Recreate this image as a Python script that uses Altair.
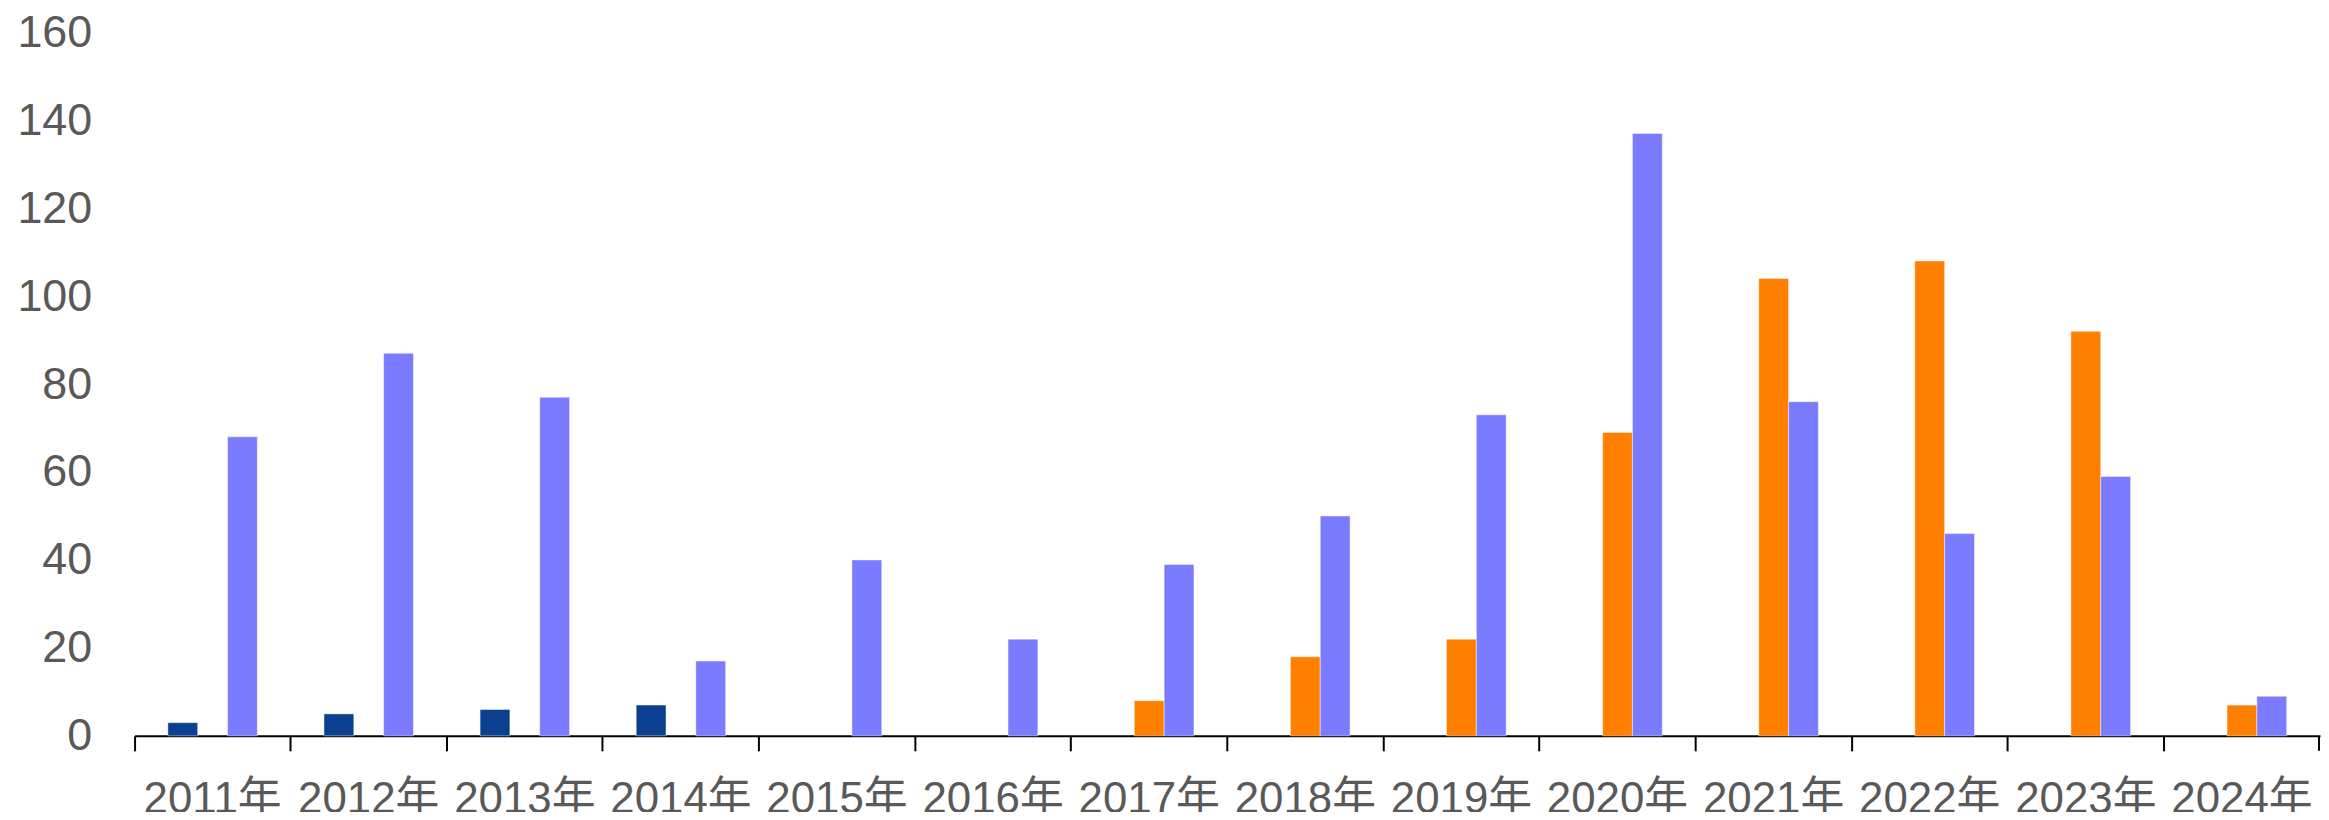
import altair as alt
import pandas as pd

years = ["2011年", "2012年", "2013年", "2014年", "2015年", "2016年", "2017年",
         "2018年", "2019年", "2020年", "2021年", "2022年", "2023年", "2024年"]
series_names = ["系列1", "系列2", "系列3"]
s1 = [3, 5, 6, 7, None, None, None, None, None, None, None, None, None, None]
s2 = [None, None, None, None, None, None, 8, 18, 22, 69, 104, 108, 92, 7]
s3 = [68, 87, 77, 17, 40, 22, 39, 50, 73, 137, 76, 46, 59, 9]
colors = ["#0B3F8F", "#FF7F00", "#7B7BFF"]
y_ticks = [0, 20, 40, 60, 80, 100, 120, 140, 160]

rows = []
for name, vals in zip(series_names, [s1, s2, s3]):
    for y, v in zip(years, vals):
        if v is not None:
            rows.append({"year": y, "series": name, "value": v})
df = pd.DataFrame(rows)

W = 2193
H = 706
FONT = "Liberation Sans, Arial, Noto Sans CJK SC"
# empty slots either side of the group stand for the gap between clusters
offset_domain = ["_gapL"] + series_names + ["_gapR"]

bars = alt.Chart(df).mark_bar(
    stroke="#ffffff", strokeWidth=1, strokeOpacity=0.45
).encode(
    x=alt.X("year:N", sort=years,
            scale=alt.Scale(domain=years, paddingInner=0, paddingOuter=0),
            axis=alt.Axis(title=None, labelAngle=0, bandPosition=0,
                          labelFontSize=44,
                          labelColor="#595959", labelFont=FONT,
                          labelPadding=27, labelOverlap=False, labelBound=False,
                          domainColor="#000000", domainWidth=2,
                          tickColor="#000000", tickWidth=2, tickSize=15,
                          grid=False)),
    xOffset=alt.XOffset("series:N",
                        scale=alt.Scale(domain=offset_domain, paddingInner=0,
                                        paddingOuter=0.117)),
    y=alt.Y("value:Q",
            scale=alt.Scale(domain=[0, 160], nice=False, zero=True),
            axis=alt.Axis(title=None, values=y_ticks, grid=False, domain=False,
                          ticks=False, tickSize=0, labelFontSize=45,
                          labelColor="#595959", labelFont=FONT,
                          labelPadding=43)),
    color=alt.Color("series:N",
                    scale=alt.Scale(domain=series_names, range=colors),
                    legend=None),
)

end_tick = alt.Chart(pd.DataFrame({"k": [0]})).mark_rule(
    color="#000000", strokeWidth=2
).encode(x=alt.value(W - 1), y=alt.value(H), y2=alt.value(H + 15))

chart = alt.layer(bars, end_tick).properties(
    width=W, height=H,
    autosize=alt.AutoSizeParams(type="none"),
    padding={"left": 127, "top": 23, "right": 1, "bottom": 75},
).configure(
    background="#ffffff",
    view=alt.ViewConfig(stroke=None),
)

chart.save("out.html", embed_options={"renderer": "svg", "actions": False})
